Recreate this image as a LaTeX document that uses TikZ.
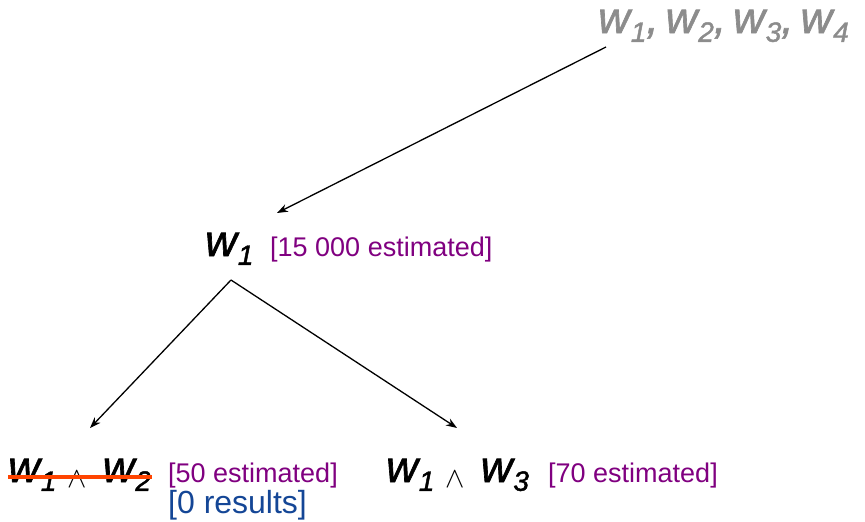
\documentclass[tikz,border=0pt]{standalone}
\usepackage{fontspec}
\setmainfont{Liberation Sans}
\newfontfamily\wfont[FakeBold=1.5]{Liberation Sans}
\usetikzlibrary{arrows.meta}
\newcommand\wv[1]{w\kern0.02em\raisebox{-0.2em}{\fontsize{28}{30}\selectfont #1}}
\newcommand\andop{\hspace{11pt}\raisebox{-5pt}{\fontsize{10}{12}\selectfont\scalebox{2.9}{$\wedge$}}\hspace{16pt}}
\newcommand\sep{,\hspace{7pt}}
\definecolor{purp}{RGB}{128,0,128}
\definecolor{resblue}{RGB}{20,70,150}
\definecolor{strike}{RGB}{255,68,0}
\tikzset{
  term/.style={anchor=base west, inner sep=0pt, text=black, font=\wfont\fontsize{44}{48}\selectfont\itshape},
  est/.style={anchor=base west, inner sep=0pt, text=purp, font=\fontsize{27}{30}\selectfont},
  res/.style={anchor=base west, inner sep=0pt, text=resblue, font=\fontsize{32}{36}\selectfont},
  edge/.style={-{Stealth[length=11pt,width=8pt]}, line width=1.3pt}
}
\begin{document}
\begin{tikzpicture}[x=1pt,y=-1pt]
\useasboundingbox (0,0) rectangle (865,522);
\node[term, text=gray!90] (top) at (598,33) {\wv{1}\sep\wv{2}\sep\wv{3}\sep\wv{4}};
\node[term] (n1) at (205,256) {\wv{1}};
\node[est] (e1) at (270,256) {[15 000 estimated]};
\node[term] (n12) at (8,482) {\wv{1}\andop\wv{2}};
\node[est] (e12) at (168,482) {[50 estimated]};
\node[res] (r12) at (168,513) {[0 results]};
\node[term] (n13) at (386,482) {\wv{1}\andop\wv{3}};
\node[est] (e13) at (548,482) {[70 estimated]};
\coordinate (a0) at (606,47);
\coordinate (a1) at (277,213);
\coordinate (b0) at (231,280);
\coordinate (b1) at (90,428);
\coordinate (c1) at (457,428);
\draw[edge] (a0) -- (a1);
\draw[edge] (b0) -- (b1);
\draw[edge] (b0) -- (c1);
\draw[strike, line width=4pt] (n12.west |- 0,477) -- (152,477);
\end{tikzpicture}
\end{document}
